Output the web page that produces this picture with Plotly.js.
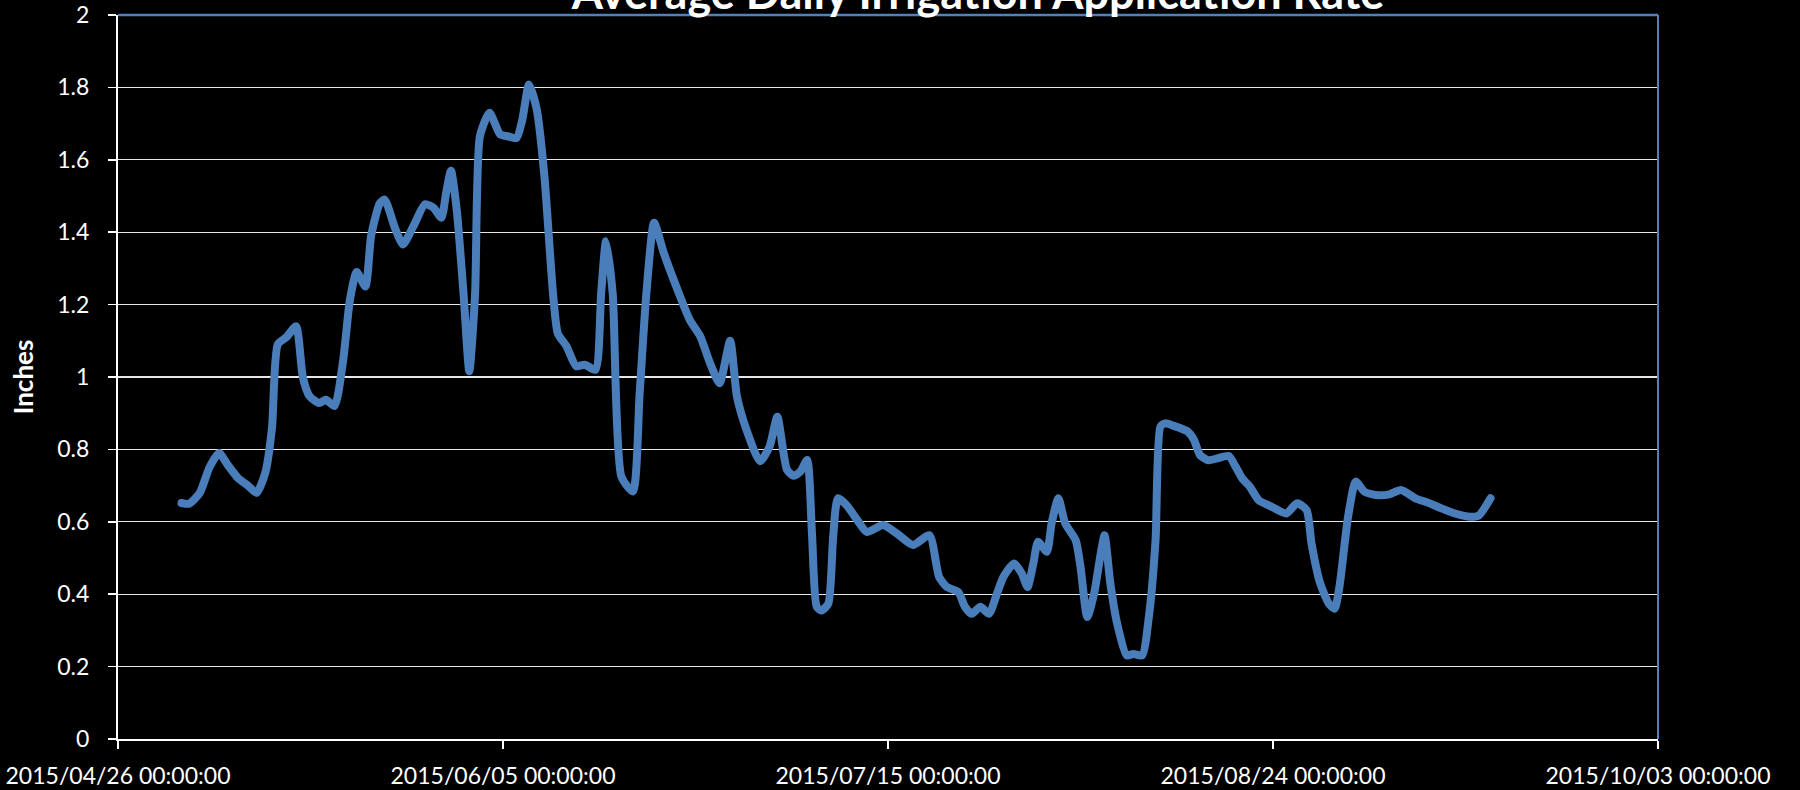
<!DOCTYPE html>
<html>
<head>
<meta charset="utf-8">
<script src="https://cdn.plot.ly/plotly-3.0.1.min.js"></script>
<style>
  html, body { margin: 0; padding: 0; background: #000; }
  #chart { width: 1800px; height: 790px; }
  .scatterlayer .js-line { stroke-linecap: round; stroke-linejoin: round; }
</style>
</head>
<body>
<div id="chart"></div>
<script>
// Days after 2015-04-26 00:00 at which values were read, and the values (inches)
const baseDate = '2015-04-26';
const dayOffsets = [
  6.6, 7.4, 8.5, 9.5, 10.5, 11.4, 12.5, 13.5, 14.4, 15.3,
  16.0, 16.6, 17.5, 18.5, 19.2, 19.9, 20.9, 21.6, 22.5, 23.4,
  24.1, 24.8, 25.7, 26.3, 27.2, 27.7, 28.8, 29.6, 30.7, 31.9,
  32.8, 33.6, 34.1, 34.6, 35.2, 35.9, 36.5, 37.1, 37.6, 38.6,
  39.7, 40.5, 41.4, 42.0, 42.7, 43.5, 44.3, 45.2, 45.7, 46.6,
  47.6, 48.5, 49.6, 50.2, 50.7, 51.4, 52.3, 53.5, 54.2, 54.9,
  55.7, 56.7, 58.0, 59.4, 60.5, 61.5, 62.5, 63.6, 64.3, 65.3,
  66.7, 67.7, 68.5, 69.5, 70.2, 70.9, 71.6, 72.1, 72.6, 73.1,
  73.8, 74.3, 74.8, 75.7, 76.8, 77.8, 79.5, 80.9, 82.6, 84.3,
  85.3, 86.1, 87.3, 88.0, 88.7, 89.6, 90.5, 91.3, 92.0, 93.1,
  93.9, 94.5, 95.1, 95.6, 96.5, 97.0, 97.7, 98.4, 99.5, 100.0,
  100.7, 101.4, 102.1, 102.5, 103.1, 103.8, 104.8, 105.5, 106.4, 107.1,
  107.8, 108.3, 108.8, 109.7, 111.1, 111.8, 112.4, 113.3, 114.2, 115.4,
  116.1, 116.8, 117.6, 118.5, 119.5, 120.4, 121.4, 122.5, 123.5, 124.0,
  124.9, 125.8, 126.4, 126.9, 127.8, 128.6, 129.5, 130.7, 132.1, 133.3,
  134.8, 136.1, 137.5, 138.9, 140.5, 141.4, 142.6
];
const inches = [
  0.652, 0.65, 0.68, 0.75, 0.79, 0.757, 0.72, 0.70, 0.68, 0.735,
  0.86, 1.09, 1.11, 1.14, 1.00, 0.947, 0.928, 0.937, 0.92, 1.048,
  1.214, 1.29, 1.25, 1.39, 1.48, 1.49, 1.41, 1.366, 1.417, 1.477,
  1.467, 1.44, 1.51, 1.57, 1.46, 1.23, 1.016, 1.23, 1.665, 1.73,
  1.67, 1.665, 1.66, 1.71, 1.808, 1.74, 1.555, 1.23, 1.12, 1.085,
  1.03, 1.034, 1.02, 1.232, 1.375, 1.23, 0.725, 0.684, 0.956, 1.232,
  1.426, 1.343, 1.25, 1.158, 1.112, 1.039, 0.983, 1.10, 0.947, 0.854,
  0.767, 0.808, 0.89, 0.744, 0.727, 0.739, 0.771, 0.568, 0.365, 0.355,
  0.374, 0.558, 0.665, 0.646, 0.605, 0.572, 0.591, 0.568, 0.536, 0.563,
  0.448, 0.42, 0.406, 0.365, 0.346, 0.365, 0.346, 0.40, 0.448, 0.485,
  0.457, 0.42, 0.485, 0.545, 0.517, 0.596, 0.665, 0.596, 0.549, 0.476,
  0.337, 0.40, 0.512, 0.563, 0.43, 0.32, 0.231, 0.235, 0.231, 0.337,
  0.55, 0.863, 0.872, 0.865, 0.85, 0.826, 0.785, 0.77, 0.775, 0.782,
  0.753, 0.72, 0.697, 0.66, 0.646, 0.634, 0.623, 0.651, 0.632, 0.54,
  0.43, 0.374, 0.36, 0.42, 0.614, 0.711, 0.683, 0.674, 0.676, 0.688,
  0.665, 0.653, 0.637, 0.623, 0.614, 0.618, 0.665
];
const xTickDates = ['2015-04-26', '2015-06-05', '2015-07-15', '2015-08-24', '2015-10-03'];
const xTickLabels = ['2015/04/26 00:00:00', '2015/06/05 00:00:00', '2015/07/15 00:00:00', '2015/08/24 00:00:00', '2015/10/03 00:00:00'];
const yTickValues = [0, 0.2, 0.4, 0.6, 0.8, 1, 1.2, 1.4, 1.6, 1.8, 2];
const yTickLabels = ['0', '0.2', '0.4', '0.6', '0.8', '1', '1.2', '1.4', '1.6', '1.8', '2'];
const chartTitle = 'Average Daily Irrigation Application Rate';
const yTitle = 'Inches';

const baseMs = Date.parse(baseDate + 'T00:00:00Z');
const xDates = dayOffsets.map(d => new Date(baseMs + d * 86400000).toISOString().replace('T', ' ').slice(0, 19));

const FONT = 'Lato, "Open Sans", "DejaVu Sans", sans-serif';
const BLUE = '#4a7ebb';

const trace = {
  x: xDates,
  y: inches,
  type: 'scatter',
  mode: 'lines',
  line: { color: BLUE, width: 8, shape: 'spline', smoothing: 0.6 },
  hoverinfo: 'x+y',
  showlegend: false
};

const layout = {
  width: 1800,
  height: 790,
  paper_bgcolor: '#000000',
  plot_bgcolor: '#000000',
  margin: { l: 118, r: 142, t: 15, b: 51, pad: 0 },
  font: { family: FONT, color: '#ffffff', size: 23 },
  title: {
    text: chartTitle,
    font: { family: FONT, size: 45, color: '#ffffff', weight: 700 },
    xref: 'container', x: 978 / 1800, xanchor: 'center',
    yref: 'paper', y: 1, yanchor: 'bottom',
    pad: { b: 6 }
  },
  xaxis: {
    type: 'date',
    range: ['2015-04-26', '2015-10-03'],
    tickmode: 'array',
    tickvals: xTickDates,
    ticktext: xTickLabels,
    showgrid: false,
    zeroline: false,
    showline: true,
    linecolor: '#ffffff',
    linewidth: 2,
    ticks: 'outside',
    ticklen: 8,
    tickwidth: 1.5,
    tickcolor: '#ffffff',
    ticklabelstandoff: 7,
    tickfont: { family: FONT, size: 23, color: '#ffffff' },
    fixedrange: true
  },
  yaxis: {
    range: [0, 2],
    tickmode: 'array',
    tickvals: yTickValues,
    ticktext: yTickLabels,
    showgrid: true,
    gridcolor: '#e6e6e6',
    gridwidth: 1.3,
    zeroline: false,
    showline: true,
    linecolor: '#ffffff',
    linewidth: 2,
    ticks: 'outside',
    ticklen: 8,
    tickwidth: 1.5,
    tickcolor: '#ffffff',
    ticklabelstandoff: 14,
    tickfont: { family: FONT, size: 23, color: '#ffffff' },
    title: { text: yTitle, font: { family: FONT, size: 26, color: '#ffffff', weight: 700 }, standoff: 16 },
    fixedrange: true
  },
  shapes: [
    { type: 'line', xref: 'paper', yref: 'paper', x0: 0, x1: 1, y0: 1, y1: 1, line: { color: '#4f81bd', width: 2.5 }, layer: 'above' },
    { type: 'line', xref: 'paper', yref: 'paper', x0: 1, x1: 1, y0: 0, y1: 1, line: { color: '#4f81bd', width: 2 }, layer: 'above' }
  ]
};

Plotly.newPlot('chart', [trace], layout, { displayModeBar: false, staticPlot: true });
</script>
</body>
</html>
